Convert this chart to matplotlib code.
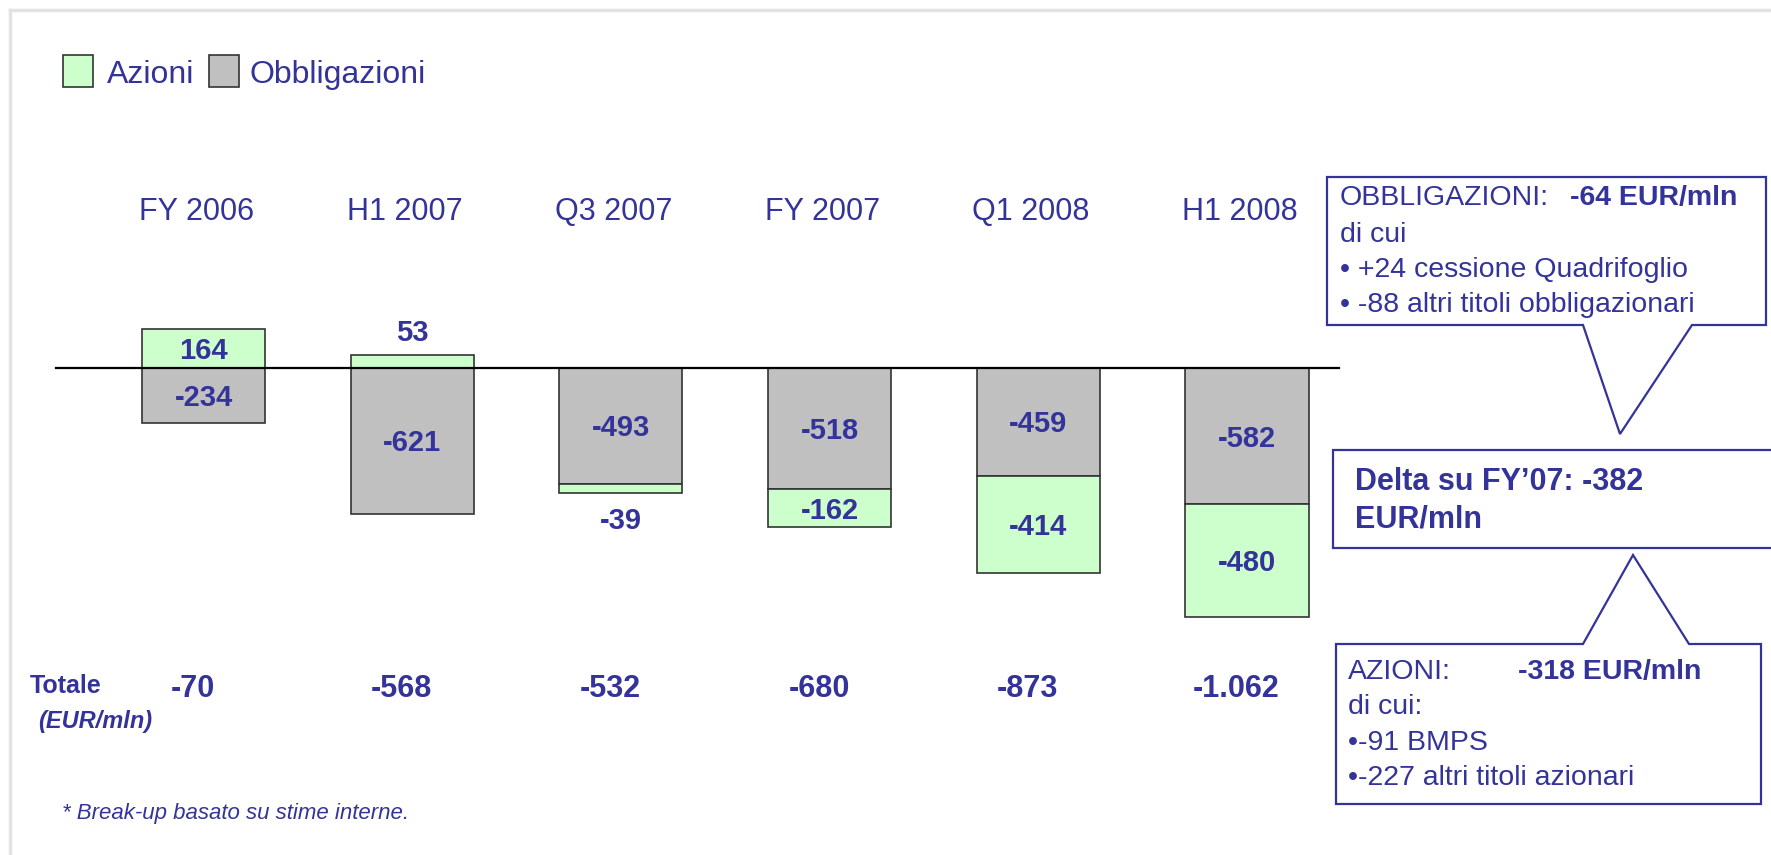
import matplotlib
matplotlib.use("Agg")
import matplotlib.pyplot as plt
from matplotlib.patches import Polygon, Rectangle
from matplotlib.lines import Line2D

# data
periods = ["FY 2006", "H1 2007", "Q3 2007", "FY 2007", "Q1 2008", "H1 2008"]
obbligazioni = [-234, -621, -493, -518, -459, -582]
azioni = [164, 53, -39, -162, -414, -480]
legend_labels = ["Azioni", "Obbligazioni"]

BLUE = "#333399"
GREEN = "#CCFFCC"
GREY = "#C0C0C0"
plt.rcParams["font.family"] = ["Liberation Sans", "DejaVu Sans"]

W, H = 1771, 855
fig = plt.figure(figsize=(W / 100, H / 100), dpi=100)
ax = fig.add_axes([0, 0, 1, 1])
ax.set_axis_off()

# map bar index / value onto the slide layout
x0_px, dx_px = 203.5, 208.7
zero_px, sy = 367.7, 0.235
ax.set_xlim(-x0_px / dx_px, (W - x0_px) / dx_px)
ax.set_ylim(-(H - zero_px) / sy, zero_px / sy)


def fx(x):
    return x / W


def fy(y):
    return 1 - y / H


xs = list(range(len(periods)))
width = 0.59
az_bottom = [0 if a > 0 else o for a, o in zip(azioni, obbligazioni)]

ax.bar(xs, obbligazioni, width, color=GREY, edgecolor="#333333", linewidth=1.2, zorder=2)
ax.bar(xs, azioni, width, bottom=az_bottom, color=GREEN, edgecolor="#333333", linewidth=1.2, zorder=2)
ax.axhline(0, xmin=fx(56), xmax=fx(1339), color="black", linewidth=1.6, zorder=3)

lbl = dict(ha="center", va="center", color=BLUE, fontsize=21, fontweight="bold", zorder=4)
for x, o, a, b in zip(xs, obbligazioni, azioni, az_bottom):
    ax.text(x, o / 2 - 12, f"{o}", **lbl)
    if abs(a) < 100:
        off = 22 if a > 0 else -28
        ax.annotate(f"{a}", (x, b + a), xytext=(0, off), textcoords="offset pixels", **lbl)
    else:
        ax.text(x, b + a / 2 - 10, f"{a}", **lbl)

# period labels and totals
for x, p, o, a in zip(xs, periods, obbligazioni, azioni):
    ax.text(x - 0.035, fy(212), p, transform=ax.get_xaxis_transform(),
            ha="center", va="center", color=BLUE, fontsize=22)
    tot = f"{o + a:,}".replace(",", ".")
    ax.text(x - 0.05, fy(689), tot, transform=ax.get_xaxis_transform(),
            ha="center", va="center", color=BLUE, fontsize=22, fontweight="bold")

fig.text(fx(30), fy(686), "Totale", ha="left", va="center", color=BLUE,
         fontsize=18, fontweight="bold")
fig.text(fx(38), fy(721), "(EUR/mln)", ha="left", va="center", color=BLUE,
         fontsize=17, fontweight="bold", style="italic")
fig.text(fx(62), fy(813), "* Break-up basato su stime interne.", ha="left", va="center",
         color=BLUE, fontsize=16, style="italic")

# legend
for sx, tx, col, name in [(63, 107, GREEN, legend_labels[0]), (209, 249, GREY, legend_labels[1])]:
    fig.patches.append(Rectangle((fx(sx), fy(87)), fx(30), 32 / H, transform=fig.transFigure,
                                 facecolor=col, edgecolor="#333333", linewidth=1.2))
    fig.text(fx(tx), fy(75), name, ha="left", va="center", color=BLUE, fontsize=23)

# slide frame
fig.lines.append(Line2D([fx(10), fx(10)], [0, fy(10)], transform=fig.transFigure,
                        color="#E2E2E2", linewidth=2.5))
fig.lines.append(Line2D([fx(10), 1], [fy(10), fy(10)], transform=fig.transFigure,
                        color="#E2E2E2", linewidth=2.5))


def callout(pts):
    fig.patches.append(Polygon([(fx(x), fy(y)) for x, y in pts], closed=True,
                               transform=fig.transFigure, facecolor="white",
                               edgecolor=BLUE, linewidth=1.6, zorder=5))


callout([(1327, 177), (1766, 177), (1766, 325), (1692, 325), (1620, 434),
         (1583, 325), (1327, 325)])
callout([(1333, 450), (1800, 450), (1800, 548), (1333, 548)])
callout([(1336, 644), (1583, 644), (1633, 555), (1689, 644), (1761, 644),
         (1761, 804), (1336, 804)])

t = dict(ha="left", va="center", color=BLUE, fontsize=20.5, zorder=6)
fig.text(fx(1340), fy(198), "OBBLIGAZIONI:", **t)
fig.text(fx(1570), fy(198), "-64 EUR/mln", fontweight="bold", **t)
fig.text(fx(1340), fy(235), "di cui", **t)
fig.text(fx(1340), fy(270), "• +24 cessione Quadrifoglio", **t)
fig.text(fx(1340), fy(305), "• -88 altri titoli obbligazionari", **t)

fig.text(fx(1355), fy(482), "Delta su FY\u201907: -382", fontweight="bold",
         **{**t, "fontsize": 22})
fig.text(fx(1355), fy(520), "EUR/mln", fontweight="bold", **{**t, "fontsize": 22})

fig.text(fx(1348), fy(672), "AZIONI:", **t)
fig.text(fx(1518), fy(672), "-318 EUR/mln", fontweight="bold", **t)
fig.text(fx(1348), fy(707), "di cui:", **t)
fig.text(fx(1348), fy(743), "•-91 BMPS", **t)
fig.text(fx(1348), fy(778), "•-227 altri titoli azionari", **t)

fig.savefig("out.png", dpi=100, facecolor="white")
